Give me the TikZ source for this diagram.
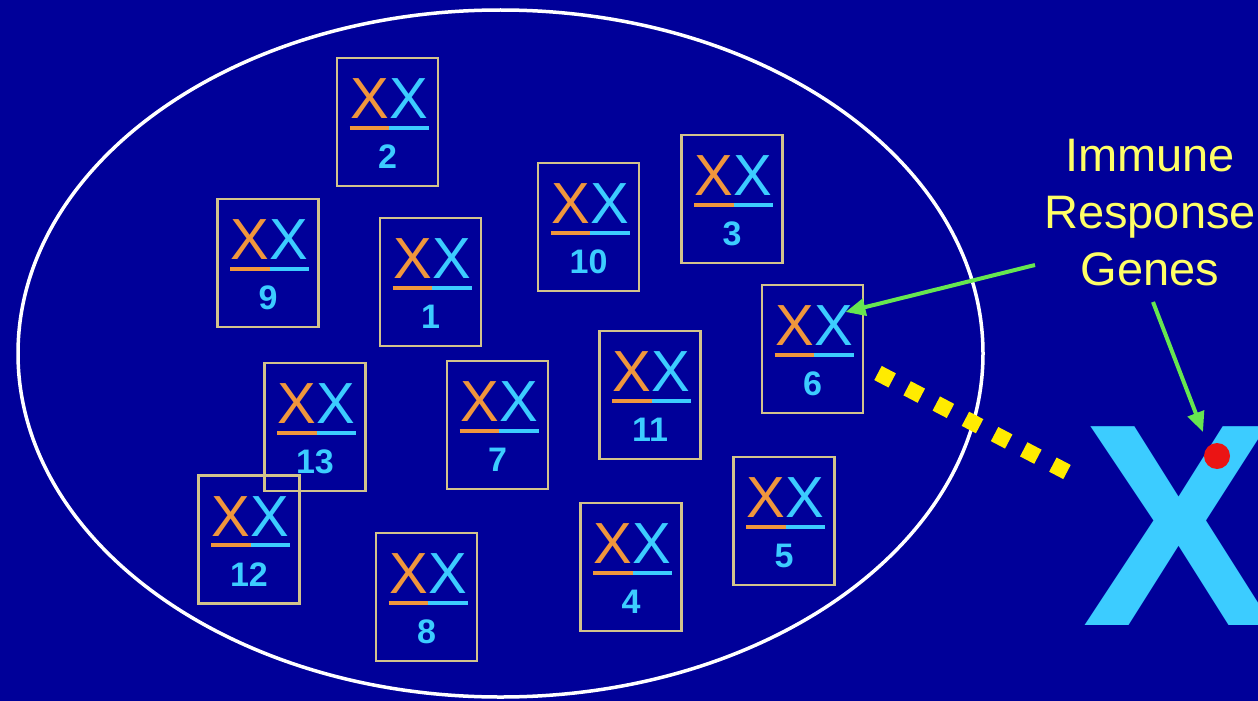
\documentclass[tikz,border=0pt]{standalone}
\usepackage{fontspec}
\setmainfont{Liberation Sans}
\usetikzlibrary{calc,arrows.meta}
\definecolor{bg}{RGB}{0,0,153}
\definecolor{xorange}{RGB}{240,150,60}
\definecolor{xcyan}{RGB}{60,204,255}
\definecolor{boxedge}{RGB}{210,195,140}
\definecolor{lblyellow}{RGB}{255,255,102}
\definecolor{agreen}{RGB}{102,230,80}
\definecolor{dotyellow}{RGB}{255,235,0}
\definecolor{gene}{RGB}{235,20,20}
\tikzset{
  cbox/.style={draw=boxedge, line width=2.2pt, minimum width=101pt, minimum height=128pt, inner sep=0pt},
  xletter/.style={font=\fontsize{58}{58}\selectfont, inner sep=0pt},
  numlbl/.style={font=\fontsize{34}{34}\selectfont\bfseries, text=xcyan, inner sep=0pt, anchor=base},
  uline/.style={line width=4pt},
  garrow/.style={draw=agreen, line width=4pt, -{Triangle[length=20pt,width=17pt]}},
}
\newcommand\chrom[4]{%
  \node[cbox] (#1) at (#2,#3) {};
  \node[xletter, text=xorange, anchor=base east] at ($(#1.north)+(1.5,62)$) {X};
  \node[xletter, text=xcyan, anchor=base west] at ($(#1.north)+(1.5,62)$) {X};
  \draw[uline, xorange] ($(#1.north)+(-38,71)$) -- ($(#1.north)+(1.5,71)$);
  \draw[uline, xcyan] ($(#1.north)+(1.5,71)$) -- ($(#1.north)+(41,71)$);
  \node[numlbl] at ($(#1.north)+(0,112)$) {#4};
}
\begin{document}
\begin{tikzpicture}[x=1pt,y=-1pt]
\fill[bg] (0,0) rectangle (1258,701);
\useasboundingbox (0,0) rectangle (1258,701);
\clip (0,0) rectangle (1258,701);
\draw[white, line width=3.5pt] (500.5,353.5) ellipse [x radius=482.5pt, y radius=343.5pt];
\chrom{b2}{387.5}{122}{2}
\chrom{b9}{268}{263}{9}
\chrom{b1}{430.5}{282}{1}
\chrom{b10}{588.5}{227}{10}
\chrom{b3}{732}{199}{3}
\chrom{b6}{812.5}{349}{6}
\chrom{b11}{650}{395}{11}
\chrom{b7}{497.5}{425}{7}
\chrom{b13}{315}{427}{13}
\chrom{b12}{249}{539.5}{12}
\chrom{b8}{426.5}{597}{8}
\chrom{b4}{631}{567}{4}
\chrom{b5}{784}{521}{5}
\coordinate (dotstart) at (878,373);
\coordinate (dotend) at (1067,472);
\draw[dotyellow, line width=16pt, dash pattern=on 16pt off 16.9pt] (dotstart) -- (dotend);
\node[font=\fontsize{289}{289}\selectfont\bfseries, text=xcyan, anchor=base west, inner sep=0pt] (bigx) at (1082,625) {X};
\node[circle, fill=gene, minimum size=26pt, inner sep=0pt] (gene) at (1217,456) {};
\node[text=lblyellow, font=\fontsize{47}{57}\selectfont, align=center, anchor=north, inner sep=0pt] (lbl) at (1150,139) {Immune\\Response\\Genes};
\coordinate (a1s) at (1035,265);
\coordinate (a1e) at ($(b6.center)+(33,-37)$);
\coordinate (a2s) at (1153,302);
\coordinate (a2e) at (1203,432);
\draw[garrow] (a1s) -- (a1e);
\draw[garrow] (a2s) -- (a2e);
\end{tikzpicture}
\end{document}
